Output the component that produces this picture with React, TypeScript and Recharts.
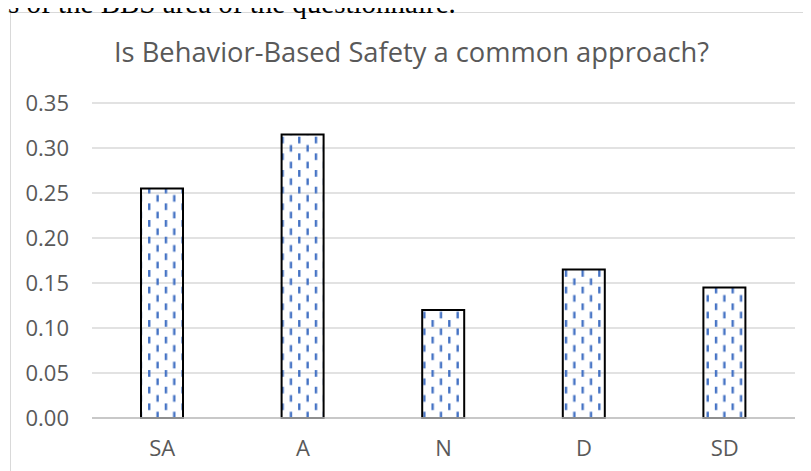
import { Bar, BarChart, CartesianGrid, XAxis, YAxis } from 'recharts'

const categories = ['SA', 'A', 'N', 'D', 'SD']
const shares = [0.255, 0.315, 0.12, 0.165, 0.145]
const yTicks = [0, 0.05, 0.1, 0.15, 0.2, 0.25, 0.3, 0.35]

const data = categories.map((name, i) => ({ name, value: shares[i] }))

const tickStyle = { fill: '#595959', fontSize: 22, fontFamily: '"Open Sans", sans-serif' }

export default function App() {
  return (
    <div style={{ position: 'relative', width: 811, height: 471, margin: '-8px 0 0 -8px', overflow: 'hidden', background: '#fff' }}>
      <div
        style={{
          position: 'absolute',
          left: 10,
          top: 12,
          width: 795,
          height: 480,
          border: '1px solid #D9D9D9',
          boxSizing: 'border-box',
        }}
      />
      <div
        style={{
          position: 'absolute',
          left: 0,
          top: -11,
          fontFamily: '"Liberation Serif", serif',
          fontSize: 29,
          lineHeight: '29px',
          whiteSpace: 'nowrap',
          color: '#000',
        }}
      >
        ts of the BBS area of the questionnaire.
      </div>
      <div
        style={{
          position: 'absolute',
          left: 14,
          top: 36,
          width: 795,
          textAlign: 'center',
          fontFamily: '"Open Sans", sans-serif',
          fontSize: 27.3,
          lineHeight: '32px',
          color: '#595959',
          whiteSpace: 'nowrap',
        }}
      >
        Is Behavior-Based Safety a common approach?
      </div>
      <div style={{ position: 'absolute', left: 10, top: 12 }}>
        <BarChart width={795} height={459} data={data} margin={{ top: 91, right: 10, left: 0, bottom: 23 }}>
          <defs>
            <pattern id="dashVert" patternUnits="userSpaceOnUse" x={4.7} y={8} width={16.67} height={16.67}>
              <rect x={0} y={0} width={2.4} height={6.7} fill="#4472C4" />
              <rect x={8.33} y={8.33} width={2.4} height={6.7} fill="#4472C4" />
            </pattern>
          </defs>
          <CartesianGrid vertical={false} stroke="#D9D9D9" strokeWidth={1.3} />
          <XAxis
            dataKey="name"
            axisLine={{ stroke: '#BFBFBF', strokeWidth: 1.3 }}
            tickLine={false}
            tickSize={0}
            tickMargin={22}
            tick={tickStyle}
            height={30}
          />
          <YAxis
            domain={[0, 0.35]}
            ticks={yTicks}
            tickFormatter={(v: number) => v.toFixed(2)}
            axisLine={false}
            tickLine={false}
            tickSize={0}
            tickMargin={23}
            tick={tickStyle}
            width={82}
          />
          <Bar dataKey="value" fill="url(#dashVert)" stroke="#000" strokeWidth={2} barSize={42} isAnimationActive={false} />
        </BarChart>
      </div>
    </div>
  )
}
